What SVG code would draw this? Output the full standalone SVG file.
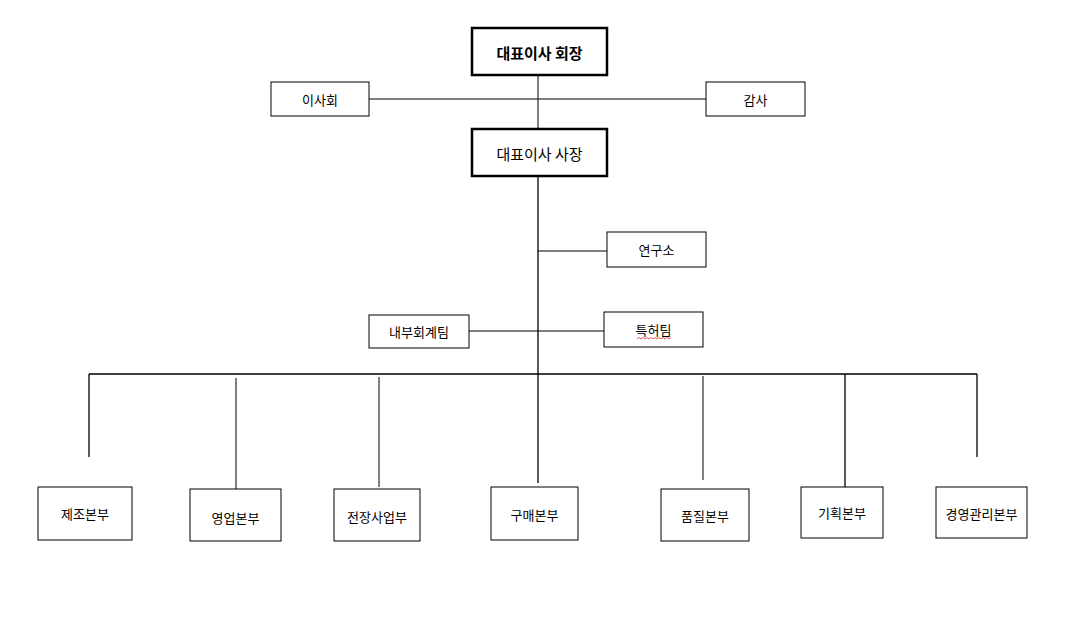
<svg xmlns="http://www.w3.org/2000/svg" width="1077" height="644" viewBox="0 0 1077 644">
<style>
rect{fill:#fff;stroke:#000;stroke-width:1}
rect.b{stroke-width:2.5}
rect.bg{stroke:none}
text{font-family:"Noto Sans CJK KR","Noto Sans",sans-serif;font-size:13px;text-anchor:middle;dominant-baseline:central;fill:#000}
text.b{font-weight:bold;font-size:15px}
text.m{font-size:15px}
line{stroke:#000;stroke-width:1}
line.w{stroke-width:1.3}
</style>
<rect class="bg" width="1077" height="644"/>
<g id="connectors">
<line x1="538" y1="75" x2="538" y2="129"/>
<line x1="369" y1="99" x2="706" y2="99"/>
<line x1="538" y1="176" x2="538" y2="483" class="w"/>
<line x1="538" y1="251" x2="607" y2="251"/>
<line x1="469" y1="331" x2="604" y2="331"/>
<line x1="89" y1="374" x2="977" y2="374" class="w"/>
<line x1="89" y1="374" x2="89" y2="457" class="w"/>
<line x1="236" y1="378" x2="236" y2="489"/>
<line x1="379" y1="377" x2="379" y2="487"/>
<line x1="703" y1="376" x2="703" y2="480"/>
<line x1="845" y1="374" x2="845" y2="487" class="w"/>
<line x1="977" y1="374" x2="977" y2="457" class="w"/>
</g>
<g id="n1"><rect class="b" x="472" y="28" width="135" height="47"/><text class="b" x="539.5" y="52">대표이사 회장</text></g>
<g id="n2"><rect x="271" y="82" width="98" height="34"/><text x="320" y="99">이사회</text></g>
<g id="n3"><rect x="706" y="82" width="99" height="34"/><text x="755.5" y="99">감사</text></g>
<g id="n4"><rect class="b" x="472" y="129" width="135" height="47"/><text class="m" x="539.5" y="153">대표이사 사장</text></g>
<g id="n5"><rect x="607" y="232" width="99" height="35"/><text x="656.5" y="249.5">연구소</text></g>
<g id="n6"><rect x="369" y="315" width="100" height="33"/><text x="419" y="331.5">내부회계팀</text></g>
<g id="n7"><rect x="604" y="312" width="99" height="35"/><text x="653.5" y="329">특허팀</text><path d="M637 339 l2 -1.5 l2 1.5 l2 -1.5 l2 1.5 l2 -1.5 l2 1.5 l2 -1.5 l2 1.5 l2 -1.5 l2 1.5 l2 -1.5 l2 1.5 l2 -1.5 l2 1.5 l2 -1.5 l2 1.5 l2 -1.5" fill="none" stroke="#e03030" stroke-width="0.8"/></g>
<g id="n8"><rect x="38" y="487" width="94" height="53"/><text x="85" y="513.5">제조본부</text></g>
<g id="n9"><rect x="190" y="489" width="91" height="52"/><text x="235.5" y="517">영업본부</text></g>
<g id="n10"><rect x="334" y="489" width="86" height="52"/><text x="377" y="516">전장사업부</text></g>
<g id="n11"><rect x="491" y="487" width="87" height="53"/><text x="534.5" y="514">구매본부</text></g>
<g id="n12"><rect x="661" y="489" width="88" height="52"/><text x="705" y="515">품질본부</text></g>
<g id="n13"><rect x="801" y="487" width="82" height="51"/><text x="842" y="512">기획본부</text></g>
<g id="n14"><rect x="936" y="487" width="91" height="51"/><text x="981.5" y="513">경영관리본부</text></g>
</svg>
